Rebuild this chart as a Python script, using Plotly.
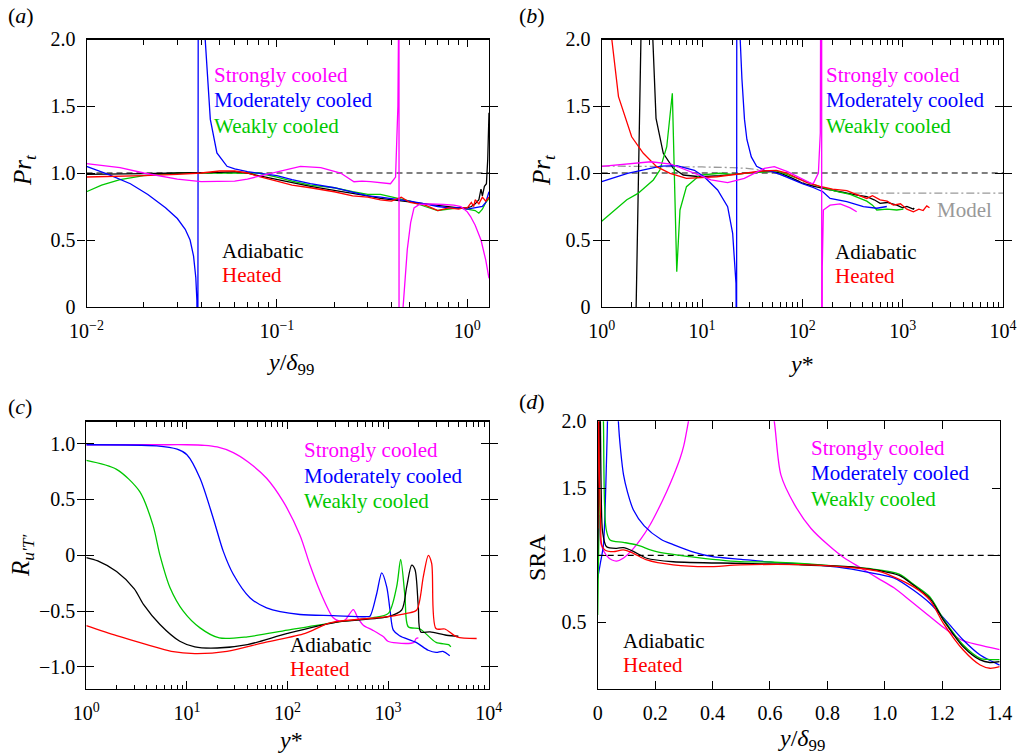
import plotly.graph_objects as go
import math

W, H = 1022, 756
FONT = "'Liberation Serif', 'Times New Roman', Times, serif"
MAG, BLU, GRN, BLK, RED, GRAY = "#ff00ff", "#0000ff", "#00c800", "#000000", "#ff0000", "#999999"

# ---------------- Panel (a): Pr_t vs y/delta99 ----------------
a_black_x = [0.01, 0.015, 0.02, 0.03, 0.04, 0.05, 0.06, 0.07, 0.08, 0.1, 0.12, 0.15, 0.2, 0.25, 0.3, 0.35,
             0.4, 0.45, 0.5, 0.6, 0.7, 0.8, 0.9, 1.0, 1.05, 1.1, 1.15, 1.18, 1.2, 1.23, 1.26, 1.28, 1.3]
a_black_y = [0.99, 0.99, 0.995, 1.0, 1.0, 1.005, 1.01, 1.0, 0.98, 0.95, 0.925, 0.90, 0.87, 0.85, 0.83, 0.81,
             0.80, 0.79, 0.78, 0.77, 0.76, 0.75, 0.74, 0.74, 0.75, 0.77, 0.80, 0.88, 0.83, 0.90, 0.92, 1.1, 1.45]
a_red_x = [0.01, 0.015, 0.02, 0.03, 0.04, 0.05, 0.06, 0.07, 0.08, 0.1, 0.12, 0.15, 0.2, 0.25, 0.3, 0.35, 0.4,
           0.45, 0.5, 0.55, 0.6, 0.65, 0.7, 0.75, 0.8, 0.9, 0.95, 1.0, 1.05, 1.08, 1.1, 1.15, 1.2, 1.25, 1.3]
a_red_y = [0.97, 0.975, 0.98, 0.99, 1.0, 1.015, 1.015, 1.0, 0.975, 0.94, 0.91, 0.89, 0.86, 0.83, 0.82, 0.80, 0.79,
           0.82, 0.78, 0.77, 0.76, 0.74, 0.72, 0.73, 0.74, 0.73, 0.74, 0.74, 0.78, 0.75, 0.80, 0.77, 0.82, 0.79, 0.82]
a_green_x = [0.01, 0.012, 0.015, 0.02, 0.03, 0.04, 0.05, 0.06, 0.07, 0.08, 0.1, 0.12, 0.15, 0.2, 0.25, 0.3,
             0.35, 0.4, 0.5, 0.6, 0.7, 0.8, 0.9, 1.0, 1.1, 1.15, 1.2, 1.25, 1.3]
a_green_y = [0.86, 0.91, 0.95, 0.98, 1.0, 1.0, 1.005, 1.005, 1.005, 1.0, 0.97, 0.94, 0.91, 0.89, 0.86, 0.84,
             0.84, 0.82, 0.79, 0.75, 0.72, 0.73, 0.74, 0.73, 0.72, 0.70, 0.73, 0.78, 0.81]
a_blue_x = [0.01, 0.013, 0.017, 0.021, 0.026, 0.03, 0.033, 0.035, 0.0365, 0.0375, 0.038, 0.0384, 0.0388, 0.042,
            0.0447, 0.0484, 0.0547, 0.06, 0.07, 0.08, 0.1, 0.12, 0.15, 0.2, 0.25, 0.3, 0.35, 0.4, 0.45, 0.5,
            0.6, 0.7, 0.8, 0.9, 1.0, 1.1, 1.2, 1.25, 1.3]
a_blue_y = [1.05, 0.99, 0.92, 0.84, 0.74, 0.66, 0.58, 0.50, 0.38, 0.22, 0.05, -1.0, 5.0, 2.0,
            1.40, 1.15, 1.05, 1.03, 1.01, 1.0, 0.98, 0.95, 0.92, 0.89, 0.86, 0.83, 0.82, 0.81, 0.80, 0.79,
            0.77, 0.75, 0.74, 0.74, 0.73, 0.74, 0.75, 0.78, 0.86]
a_mag_x = [0.01, 0.015, 0.02, 0.03, 0.04, 0.05, 0.06, 0.07, 0.08, 0.104, 0.133, 0.17, 0.216, 0.254, 0.28, 0.31,
           0.35, 0.395, 0.42, 0.432, 0.436, 0.4375, 0.4385, 0.45, 0.46, 0.469, 0.484, 0.504, 0.525, 0.56, 0.643,
           0.75, 0.85, 0.925, 1.0, 1.04, 1.1, 1.18, 1.25, 1.3]
a_mag_y = [1.07, 1.04, 1.0, 0.955, 0.935, 0.935, 0.94, 0.955, 0.975, 1.01, 1.05, 1.04, 1.0, 0.935, 0.94, 0.935,
           0.93, 0.92, 0.97, 1.5, 2.2, 5.0, -5.0, -0.5, 0.0, 0.18, 0.43, 0.63, 0.74, 0.765, 0.77,
           0.765, 0.76, 0.75, 0.71, 0.675, 0.61, 0.5, 0.35, 0.214]
a_ref_x = [0.01, 1.3]
a_ref_y = [1.0, 1.0]

# ---------------- Panel (b): Pr_t vs y* ----------------
b_black_x = [2.18, 2.6, 3.0, 3.48, 4.11, 5.17, 6.5, 9.55, 15, 20, 30, 40, 50, 60, 80, 100, 130, 200, 277, 350,
             439, 520, 596, 700, 873, 1000, 1100, 1279, 1300]
b_black_y = [-0.2, 3.0, 2.6, 1.408, 1.147, 1.035, 0.985, 0.972, 0.98, 0.99, 1.0, 1.01, 1.01, 1.0, 0.96, 0.925,
             0.90, 0.87, 0.848, 0.835, 0.823, 0.80, 0.774, 0.78, 0.76, 0.74, 0.75, 0.73, 0.74]
b_red_x = [1.15, 1.26, 1.47, 1.99, 2.6, 3.53, 4.8, 7.0, 14, 20, 30, 40, 55, 70, 90, 110, 150, 200, 277, 350,
           439, 500, 596, 700, 808, 950, 1100, 1279, 1450, 1600, 1738, 1850]
b_red_y = [2.4, 2.0, 1.57, 1.27, 1.147, 1.047, 0.998, 0.96, 0.972, 0.985, 1.0, 1.015, 1.02, 1.0, 0.96, 0.93,
           0.90, 0.88, 0.868, 0.84, 0.81, 0.83, 0.80, 0.79, 0.76, 0.77, 0.73, 0.71, 0.73, 0.72, 0.754, 0.74]
b_green_x = [1.0, 1.78, 2.3, 3.27, 3.8, 4.45, 5.06, 5.3, 5.6, 6.03, 7.0, 9.55, 15.1, 20, 30, 40, 55, 70, 90,
             120, 160, 230, 300, 439, 500, 552, 700, 873, 1016]
b_green_y = [0.64, 0.80, 0.848, 0.948, 1.022, 1.196, 1.595, 1.047, 0.264, 0.724, 0.898, 0.985, 0.998, 0.99,
             1.0, 1.01, 1.015, 0.99, 0.96, 0.92, 0.89, 0.86, 0.84, 0.79, 0.76, 0.724, 0.73, 0.724, 0.73]
b_blue_x = [1.0, 1.81, 3.9, 5.6, 8.4, 10.5, 14.3, 18, 20.2, 21.8, 22.1, 22.3, 24, 25, 26.5, 28, 31, 35, 42, 50,
            60, 80, 100, 130, 160, 189, 277, 406, 552, 695]
b_blue_y = [0.935, 0.998, 1.052, 1.055, 1.02, 0.972, 0.873, 0.749, 0.55, 0.177, -0.5, 5.0, 2.0, 1.7, 1.4, 1.25,
            1.12, 1.05, 1.02, 1.01, 0.99, 0.95, 0.92, 0.89, 0.86, 0.81, 0.786, 0.749, 0.737, 0.75]
b_mag_x = [1.0, 3.1, 4.9, 8.4, 12.3, 18, 26.4, 41.8, 52.5, 71, 97, 122, 129, 144.5, 151, 155.5, 156.5, 158,
           162, 189, 238, 300, 348]
b_mag_y = [1.05, 1.084, 1.067, 0.997, 0.948, 0.928, 0.96, 1.035, 1.047, 1.01, 0.96, 0.923, 0.923, 1.0, 1.3,
           5.0, -5.0, 0.3, 0.724, 0.76, 0.769, 0.74, 0.711]
b_model_x = [1.0, 6.0, 10, 20, 28, 40, 60, 100, 150, 200, 300, 1000, 10000]
b_model_y = [1.052, 1.05, 1.045, 1.04, 1.035, 1.02, 0.99, 0.93, 0.89, 0.865, 0.85, 0.85, 0.85]
b_ref_x = [1.0, 10000]
b_ref_y = [1.0, 1.0]

# ---------------- Panel (c): R_u'T' vs y* ----------------
c_mag_x = [1.0, 5, 10, 15, 20, 28.9, 40, 62, 90.8, 133, 167, 210, 285, 330, 373, 451, 500, 567, 700, 900, 996,
           1500, 1800, 1900, 2000]
c_mag_y = [0.99, 0.99, 0.99, 0.985, 0.97, 0.92, 0.84, 0.69, 0.48, 0.18, -0.085, -0.32, -0.56, -0.59, -0.58, -0.486,
           -0.56, -0.626, -0.67, -0.73, -0.77, -0.79, -0.78, -0.745, -0.74]
c_blue_x = [1.0, 5, 8, 10, 13.5, 18.3, 23, 28.9, 42.3, 62, 133, 285, 612, 661, 771, 864, 969, 1045, 1127, 1300,
            1900, 2500, 3000, 3500, 4100]
c_blue_y = [0.99, 0.98, 0.95, 0.90, 0.69, 0.33, 0.035, -0.17, -0.38, -0.47, -0.53, -0.54, -0.55, -0.545, -0.342,
            -0.157, -0.282, -0.49, -0.67, -0.72, -0.78, -0.85, -0.87, -0.86, -0.90]
c_green_x = [1.0, 2.0, 3.4, 4.6, 5.4, 6.8, 9.2, 13.5, 21, 40, 100, 300, 700, 1005, 1217, 1334, 1472, 1586, 2075,
             3000, 4000, 4200]
c_green_y = [0.85, 0.77, 0.57, 0.27, 0.0, -0.29, -0.50, -0.65, -0.74, -0.73, -0.67, -0.60, -0.56, -0.52, -0.28,
             -0.037, -0.37, -0.64, -0.66, -0.78, -0.80, -0.82]
c_black_x = [1.0, 1.3, 2.0, 3.0, 3.7, 5.4, 8.5, 12, 20, 40, 100, 300, 1000, 1365, 1531, 1716, 1850, 1996, 2110,
             2610, 3800, 4990]
c_black_y = [-0.02, -0.05, -0.145, -0.30, -0.44, -0.62, -0.77, -0.82, -0.83, -0.80, -0.70, -0.60, -0.55, -0.49,
             -0.28, -0.088, -0.127, -0.46, -0.686, -0.686, -0.716, -0.725]
c_red_x = [1.0, 2, 4, 7, 12, 25, 60, 150, 265, 1000, 1531, 1925, 2240, 2510, 2710, 2990, 3670, 4810, 7590]
c_red_y = [-0.63, -0.72, -0.80, -0.86, -0.88, -0.86, -0.78, -0.70, -0.605, -0.55, -0.52, -0.49, -0.19, 0.0,
           -0.073, -0.656, -0.66, -0.73, -0.745]

# ---------------- Panel (d): SRA vs y/delta99 ----------------
d_mag_x = [0.005, 0.012, 0.03, 0.05, 0.066, 0.09, 0.124, 0.15, 0.182, 0.21, 0.24, 0.265, 0.287, 0.3, 0.316, 0.34,
           0.45, 0.59, 0.615, 0.638, 0.685, 0.743, 0.801, 0.859, 0.917, 0.975, 1.033, 1.091, 1.149, 1.207,
           1.265, 1.323, 1.4]
d_mag_y = [1.3, 1.08, 1.0, 0.965, 0.957, 0.98, 1.05, 1.12, 1.226, 1.34, 1.475, 1.6, 1.724, 1.82, 2.0, 2.3,
           8.0, 2.3, 2.0, 1.6, 1.38, 1.2, 1.08, 0.98, 0.905, 0.83, 0.756, 0.657, 0.557, 0.457,
           0.37, 0.333, 0.296]
d_blue_x = [0.0, 0.01, 0.02, 0.028, 0.034, 0.045, 0.06, 0.072, 0.08, 0.09, 0.104, 0.124, 0.162, 0.22, 0.263, 0.34,
            0.4, 0.5, 0.626, 0.743, 0.859, 0.975, 1.033, 1.099, 1.157, 1.216, 1.273, 1.332, 1.4]
d_blue_y = [0.828, 0.95, 1.077, 1.5, 2.0, 4.0, 3.0, 2.0, 1.78, 1.6, 1.47, 1.34, 1.22, 1.12, 1.08, 1.02,
            0.99, 0.97, 0.945, 0.93, 0.905, 0.86, 0.83, 0.741, 0.642, 0.505, 0.368, 0.256, 0.181]
d_green_x = [0.0, 0.005, 0.01, 0.015, 0.02, 0.029, 0.043, 0.089, 0.136, 0.205, 0.321, 0.496, 0.6, 0.8, 0.95,
             1.05, 1.099, 1.157, 1.204, 1.273, 1.332, 1.366, 1.4]
d_green_y = [0.555, 1.3, 2.2, 2.5, 2.0, 1.2, 1.114, 1.097, 1.077, 1.027, 0.99, 0.952, 0.95, 0.925, 0.90,
             0.86, 0.785, 0.69, 0.525, 0.33, 0.231, 0.222, 0.222]
d_black_x = [0.0, 0.004, 0.008, 0.012, 0.017, 0.031, 0.066, 0.089, 0.124, 0.171, 0.263, 0.496, 0.7, 0.9, 0.983,
             1.05, 1.099, 1.157, 1.204, 1.273, 1.332, 1.366, 1.4]
d_black_y = [1.0, 1.6, 2.2, 1.5, 1.176, 1.064, 1.052, 1.057, 1.03, 0.978, 0.952, 0.94, 0.93, 0.91, 0.885,
             0.85, 0.778, 0.679, 0.517, 0.318, 0.219, 0.2, 0.206]
d_red_x = [0.0, 0.002, 0.006, 0.01, 0.014, 0.025, 0.054, 0.089, 0.124, 0.171, 0.263, 0.38, 0.496, 0.7, 0.9,
           0.983, 1.099, 1.157, 1.204, 1.273, 1.332, 1.366, 1.4]
d_red_y = [1.2, 2.2, 1.6, 1.25, 1.077, 1.04, 1.027, 1.04, 1.015, 0.965, 0.928, 0.915, 0.928, 0.93, 0.905,
           0.878, 0.766, 0.666, 0.492, 0.293, 0.181, 0.157, 0.169]
d_ref_x = [0.0, 1.4]
d_ref_y = [1.0, 1.0]

# tick labels
a_xtickvals = [0.01, 0.1, 1.0]
a_xticktext = ["10<sup>\u22122</sup>", "10<sup>\u22121</sup>", "10<sup>0</sup>"]
ystar_tickvals = [1, 10, 100, 1000, 10000]
ystar_ticktext = ["10<sup>0</sup>", "10<sup>1</sup>", "10<sup>2</sup>", "10<sup>3</sup>", "10<sup>4</sup>"]
pr_tickvals = [0, 0.5, 1.0, 1.5, 2.0]
pr_ticktext = ["0", "0.5", "1.0", "1.5", "2.0"]
r_tickvals = [-1.0, -0.5, 0, 0.5, 1.0]
r_ticktext = ["\u22121.0", "\u22120.5", "0", "0.5", "1.0"]
sra_tickvals = [0.5, 1.0, 1.5, 2.0]
sra_ticktext = ["0.5", "1.0", "1.5", "2.0"]
d_xtickvals = [0, 0.2, 0.4, 0.6, 0.8, 1.0, 1.2, 1.4]
d_xticktext = ["0", "0.2", "0.4", "0.6", "0.8", "1.0", "1.2", "1.4"]

fig = go.Figure()

def add(x, y, color, ax, dash="solid", width=1.3, shape="linear", xax=None, opacity=1.0):
    line = dict(color=color, width=width, dash=dash, shape=shape)
    if shape == "spline":
        line["smoothing"] = 0.8
    fig.add_trace(go.Scatter(x=x, y=y, mode="lines", line=line, opacity=opacity,
                             xaxis="x" + (xax if xax else ax), yaxis="y" + ax, showlegend=False,
                             hoverinfo="skip"))

# panel a
add(a_ref_x, a_ref_y, BLK, "", dash="6px,4px", width=1.2)
add(a_green_x, a_green_y, GRN, "")
add(a_black_x, a_black_y, BLK, "")
add(a_blue_x, a_blue_y, BLU, "")
add(a_red_x, a_red_y, RED, "")
add(a_mag_x, a_mag_y, MAG, "")
# panel b
add(b_ref_x, b_ref_y, BLK, "2", dash="6px,4px", width=1.2)
add(b_model_x, b_model_y, GRAY, "2", dash="8px,3px,2px,3px", width=1.3)
add(b_black_x, b_black_y, BLK, "2")
add(b_green_x, b_green_y, GRN, "2")
add(b_blue_x, b_blue_y, BLU, "2")
add(b_red_x, b_red_y, RED, "2")
add(b_mag_x, b_mag_y, MAG, "2")
# panel c
add(c_mag_x, c_mag_y, MAG, "3", shape="spline")
add(c_blue_x, c_blue_y, BLU, "3", shape="spline")
add(c_green_x, c_green_y, GRN, "3", shape="spline")
add(c_black_x, c_black_y, BLK, "3", shape="spline")
add(c_red_x, c_red_y, RED, "3", shape="spline")
# panel d
add(d_ref_x, d_ref_y, BLK, "4", dash="6px,4px", width=1.2)
add(d_mag_x, d_mag_y, MAG, "4", shape="spline")
add(d_blue_x, d_blue_y, BLU, "4", shape="spline")
add(d_green_x, d_green_y, GRN, "4", shape="spline")
add(d_black_x, d_black_y, BLK, "4", shape="spline")
add(d_red_x, d_red_y, RED, "4", shape="spline")
# invisible carriers so that the minor-tick overlay axes (bottom and top) get drawn
add(a_ref_x, a_ref_y, BLK, "", xax="5", opacity=0)
add(b_ref_x, b_ref_y, BLK, "2", xax="6", opacity=0)
add(b_ref_x, b_ref_y, BLK, "3", xax="7", opacity=0)
add(a_ref_x, a_ref_y, BLK, "", xax="8", opacity=0)
add(b_ref_x, b_ref_y, BLK, "2", xax="9", opacity=0)
add(b_ref_x, b_ref_y, BLK, "3", xax="10", opacity=0)

def hx(p):
    return p / W

def vy(p):
    return 1 - p / H

tickfont = dict(family=FONT, size=20, color="black")

def axis(dom, anchor, **kw):
    d = dict(domain=dom, anchor=anchor, showline=True, linecolor="black", linewidth=1.2, mirror="allticks",
             ticks="inside", ticklen=8, tickwidth=1.1, tickcolor="black", showgrid=False, zeroline=False,
             tickfont=tickfont, tickmode="array", automargin=False)
    d.update(kw)
    return d

def minor_axis(dom, anchor, over, rng, vals, side, position=None):
    d = dict(domain=dom, anchor=anchor, overlaying=over, type="log", range=rng, tickmode="array",
             tickvals=vals, showticklabels=False, ticks="inside", ticklen=4.5, tickwidth=1.0,
             tickcolor="black", showline=True, linecolor="black", linewidth=1.2,
             showgrid=False, zeroline=False, automargin=False, side=side)
    if position is not None:
        d["anchor"] = "free"
        d["position"] = position
    return d

def log_minor(e0, e1):
    return [m * 10 ** e for e in range(e0, e1) for m in range(2, 10)]

xa_dom = [hx(86.5), hx(489)]
xb_dom = [hx(601.7), hx(1003)]
xc_dom = [hx(86.3), hx(488.7)]
xd_dom = [hx(597.7), hx(999.7)]
ytop_dom = [vy(307), vy(39)]
ybot_dom = [vy(689.3), vy(421.3)]
a_rng = [-2, math.log10(1.3)]

fig.update_layout(
    template="none",
    width=W, height=H, margin=dict(l=0, r=0, t=0, b=0, autoexpand=False),
    paper_bgcolor="white", plot_bgcolor="white",
    font=dict(family=FONT, color="black"),
    xaxis=axis(xa_dom, "y", type="log", range=a_rng, tickvals=a_xtickvals,
               ticktext=a_xticktext, ticklabelstandoff=6),
    yaxis=axis(ytop_dom, "x", range=[0, 2], tickvals=pr_tickvals, ticktext=pr_ticktext, ticklabelstandoff=6),
    xaxis2=axis(xb_dom, "y2", type="log", range=[0, 4], tickvals=ystar_tickvals, ticktext=ystar_ticktext,
                ticklabelstandoff=6),
    yaxis2=axis(ytop_dom, "x2", range=[0, 2], tickvals=pr_tickvals, ticktext=pr_ticktext, ticklabelstandoff=6),
    xaxis3=axis(xc_dom, "y3", type="log", range=[0, 4], tickvals=ystar_tickvals, ticktext=ystar_ticktext,
                ticklabelstandoff=6),
    yaxis3=axis(ybot_dom, "x3", range=[-1.2, 1.2], tickvals=r_tickvals, ticktext=r_ticktext, ticklabelstandoff=6),
    xaxis4=axis(xd_dom, "y4", range=[0, 1.4], tickvals=d_xtickvals, ticktext=d_xticktext, ticklabelstandoff=6),
    yaxis4=axis(ybot_dom, "x4", range=[0, 2], tickvals=sra_tickvals, ticktext=sra_ticktext, ticklabelstandoff=6),
    xaxis5=minor_axis(xa_dom, "y", "x", a_rng, log_minor(-2, 0), "bottom"),
    xaxis6=minor_axis(xb_dom, "y2", "x2", [0, 4], log_minor(0, 4), "bottom"),
    xaxis7=minor_axis(xc_dom, "y3", "x3", [0, 4], log_minor(0, 4), "bottom"),
    xaxis8=minor_axis(xa_dom, "y", "x", a_rng, log_minor(-2, 0), "top", position=ytop_dom[1]),
    xaxis9=minor_axis(xb_dom, "y2", "x2", [0, 4], log_minor(0, 4), "top", position=ytop_dom[1]),
    xaxis10=minor_axis(xc_dom, "y3", "x3", [0, 4], log_minor(0, 4), "top", position=ybot_dom[1]),
)

ann = []

def text(x, y, s, color="black", size=21, xanchor="left", angle=0):
    ann.append(dict(x=hx(x), y=vy(y), xref="paper", yref="paper", text=s, showarrow=False,
                    xanchor=xanchor, yanchor="middle", textangle=angle, borderpad=0,
                    font=dict(family=FONT, size=size, color=color)))

# legends
for (lx, ly, ax2, ay2) in [(213, 75, 221, 251), (825, 75, 833.7, 252), (303, 450, 288.7, 645), (810, 448, 621.7, 641)]:
    text(lx, ly, "Strongly cooled", MAG)
    text(lx, ly + 25.5, "Moderately cooled", BLU)
    text(lx, ly + 51, "Weakly cooled", GRN)
    text(ax2, ay2, "Adiabatic", BLK)
    text(ax2, ay2 + 24, "Heated", RED)
text(936, 210, "Model", GRAY)

# panel labels
text(7, 15, "(<i>a</i>)", size=22)
text(518, 15, "(<i>b</i>)", size=22)
text(7, 406, "(<i>c</i>)", size=22)
text(518, 401, "(<i>d</i>)", size=22)

# axis titles
text(24, 170, "<i>Pr<sub>t</sub></i>", size=25, xanchor="center", angle=-90)
text(543, 170, "<i>Pr<sub>t</sub></i>", size=25, xanchor="center", angle=-90)
text(22, 555, "<i>R</i><sub><i>u\u2032T\u2032</i></sub>", size=25, xanchor="center", angle=-90)
text(537, 558, "SRA", size=24, xanchor="center", angle=-90)
text(290, 364, "<i>y</i>/<i>\u03b4</i><sub>99</sub>", size=24, xanchor="center")
text(801, 364, "<i>y</i>*", size=24, xanchor="center")
text(290, 740, "<i>y</i>*", size=24, xanchor="center")
text(801, 740, "<i>y</i>/<i>\u03b4</i><sub>99</sub>", size=24, xanchor="center")

fig.update_layout(annotations=ann)
fig.write_html("out.html")
